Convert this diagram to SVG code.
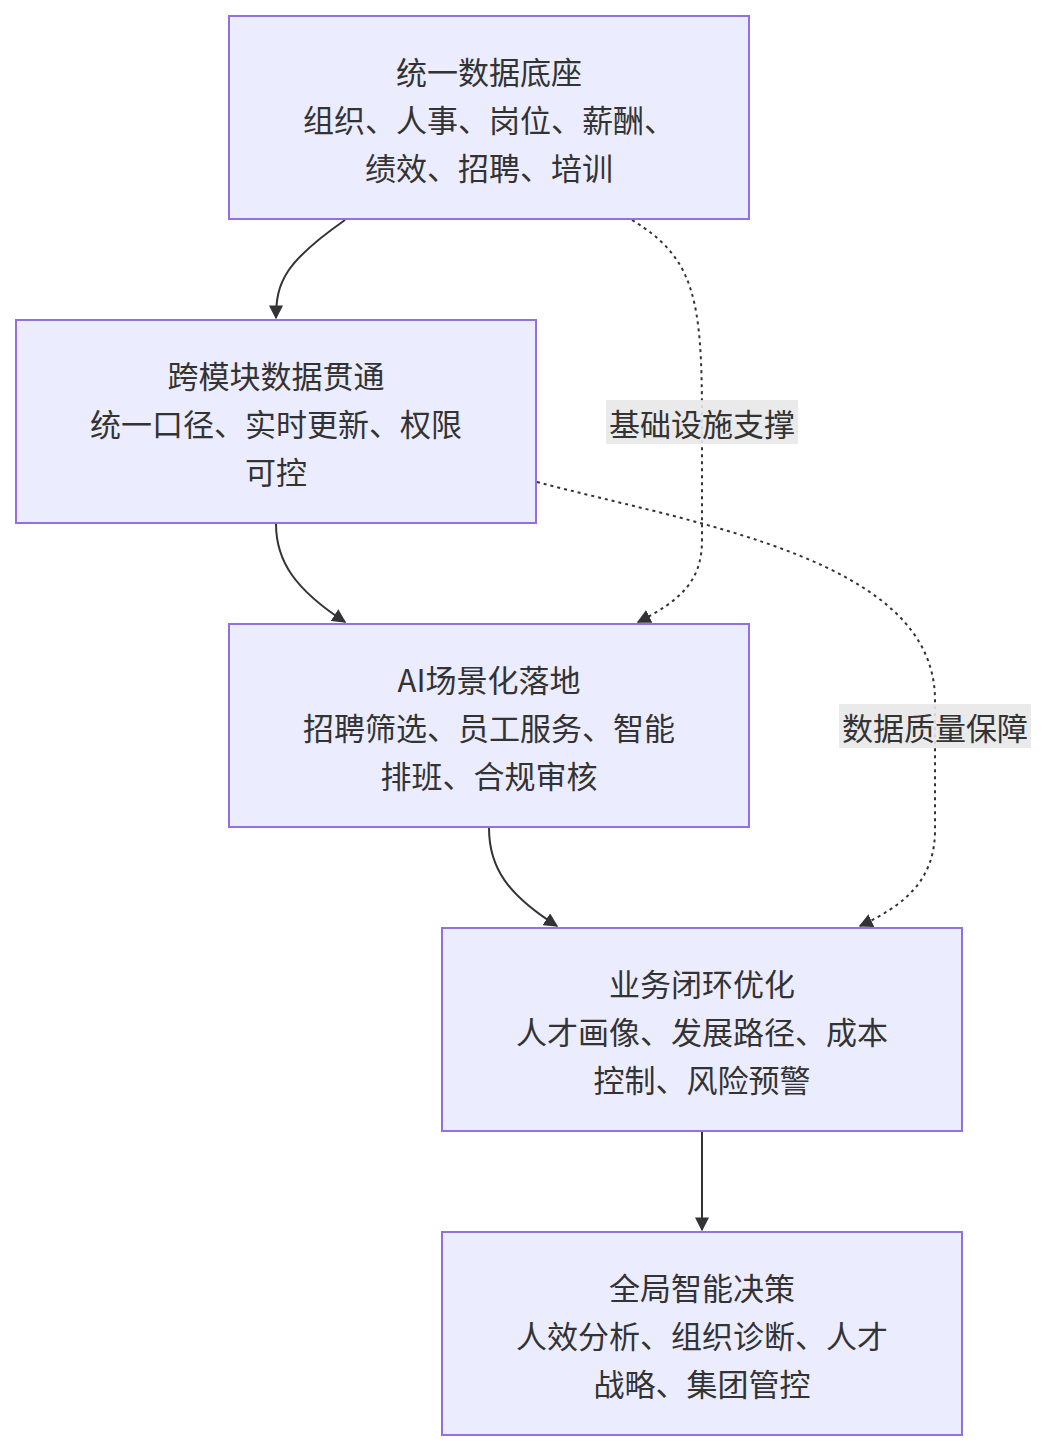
<svg xmlns="http://www.w3.org/2000/svg" width="1047" height="1452" viewBox="0 0 1047 1452">
<style>
.n rect{fill:#ECECFF;stroke:#9370DB;stroke-width:2}
text{font-family:"Noto Sans CJK SC","Noto Sans",sans-serif;font-size:31px;fill:#333;text-anchor:middle;dominant-baseline:central}
.e{fill:none;stroke:#333;stroke-width:2}
.d{stroke-dasharray:3,4}
.lb{fill:#e8e8e8;opacity:0.9}
</style>
<defs><marker id="a" viewBox="0 0 10 10" refX="9" refY="5" markerWidth="8" markerHeight="8" markerUnits="userSpaceOnUse" orient="auto"><path d="M0,0L10,5L0,10z" fill="#333"/></marker>
<marker id="b" viewBox="0 0 10 10" refX="9" refY="5" markerWidth="14" markerHeight="14" markerUnits="userSpaceOnUse" orient="auto"><path d="M0,0L10,5L0,10z" fill="#333"/></marker></defs>
<rect width="1047" height="1452" fill="#fff"/>
<g id="edges">
<path class="e" d="M345,220 C285,262 276,282 276,318" marker-end="url(#b)"/>
<path class="e d" d="M632,220 C695,258 702,300 702,420 L702,540 C702,580 682,600 638,622" marker-end="url(#b)"/>
<path class="e" d="M276,524 C276,562 296,590 345,622" marker-end="url(#b)"/>
<path class="e d" d="M537,482 C700,525 935,560 935,700 L935,830 C935,880 905,905 860,926" marker-end="url(#b)"/>
<path class="e" d="M489,828 C489,868 508,895 557,926" marker-end="url(#b)"/>
<path class="e" d="M702,1132 L702,1230" marker-end="url(#b)"/>
<rect class="lb" x="606" y="400" width="192" height="44"/><text x="702" y="422">基础设施支撑</text>
<rect class="lb" x="839" y="704" width="192" height="44"/><text x="935" y="726">数据质量保障</text>
</g>
<g id="n1" class="n"><rect x="229" y="16" width="520" height="203"/><text x="489" y="70">统一数据底座</text><text x="489" y="118">组织、人事、岗位、薪酬、</text><text x="489" y="166">绩效、招聘、培训</text></g>
<g id="n2" class="n"><rect x="16" y="320" width="520" height="203"/><text x="276" y="374">跨模块数据贯通</text><text x="276" y="422">统一口径、实时更新、权限</text><text x="276" y="470">可控</text></g>
<g id="n3" class="n"><rect x="229" y="624" width="520" height="203"/><text x="489" y="678">AI场景化落地</text><text x="489" y="726">招聘筛选、员工服务、智能</text><text x="489" y="774">排班、合规审核</text></g>
<g id="n4" class="n"><rect x="442" y="928" width="520" height="203"/><text x="702" y="982">业务闭环优化</text><text x="702" y="1030">人才画像、发展路径、成本</text><text x="702" y="1078">控制、风险预警</text></g>
<g id="n5" class="n"><rect x="442" y="1232" width="520" height="203"/><text x="702" y="1286">全局智能决策</text><text x="702" y="1334">人效分析、组织诊断、人才</text><text x="702" y="1382">战略、集团管控</text></g>
</svg>
